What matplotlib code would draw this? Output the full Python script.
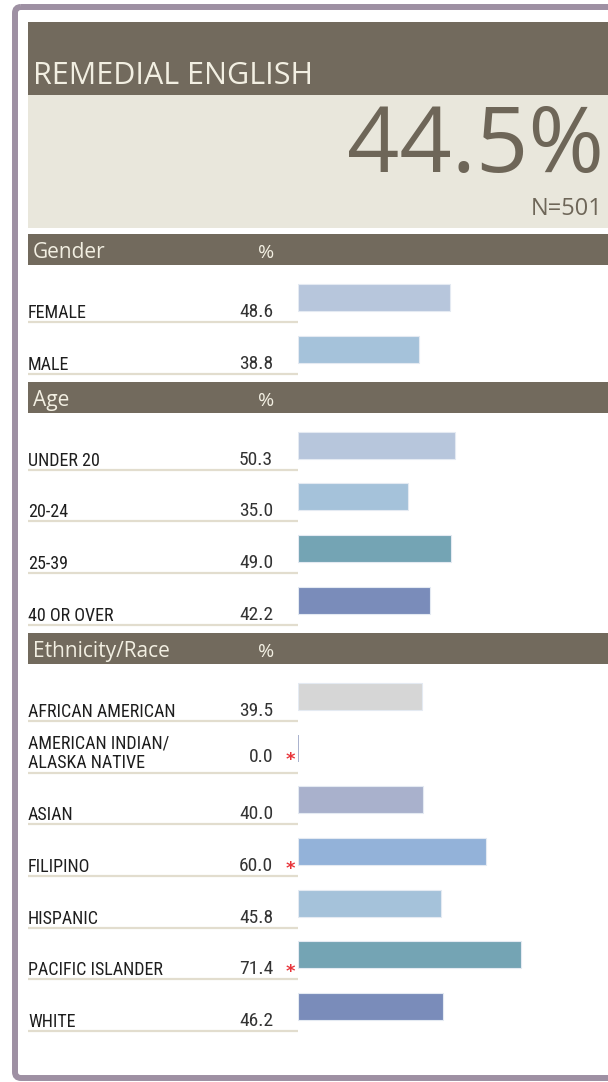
import matplotlib
matplotlib.use("Agg")
import matplotlib.pyplot as plt
from matplotlib import font_manager
from matplotlib.patches import Rectangle, FancyBboxPatch

# ---- data -------------------------------------------------------------
title = "REMEDIAL ENGLISH"
overall_pct = 44.5
overall_n = 501

gender_labels = ["FEMALE", "MALE"]
gender_values = [48.6, 38.8]
gender_flags = [False, False]
gender_colors = ["#b7c6dc", "#a5c2da"]

age_labels = ["UNDER 20", "20-24", "25-39", "40 OR OVER"]
age_values = [50.3, 35.0, 49.0, 42.2]
age_flags = [False, False, False, False]
age_colors = ["#b7c6dc", "#a5c2da", "#74a4b4", "#7a8cba"]

eth_labels = ["AFRICAN AMERICAN", "AMERICAN INDIAN/\nALASKA NATIVE", "ASIAN",
              "FILIPINO", "HISPANIC", "PACIFIC ISLANDER", "WHITE"]
eth_values = [39.5, 0.0, 40.0, 60.0, 45.8, 71.4, 46.2]
eth_flags = [False, True, False, True, False, True, False]
eth_colors = ["#d6d6d6", "#a9b1cd", "#a9b1cc", "#93b2d9", "#a5c2da", "#74a4b4", "#7a8cba"]

sections = [
    ("Gender", gender_labels, gender_values, gender_flags, gender_colors),
    ("Age", age_labels, age_values, age_flags, age_colors),
    ("Ethnicity/Race", eth_labels, eth_values, eth_flags, eth_colors),
]

# ---- style ------------------------------------------------------------
names = {f.name for f in font_manager.fontManager.ttflist}


def pick(*cands):
    return next((c for c in cands if c in names), "DejaVu Sans")


HEAD_FONT = pick("Open Sans", "Noto Sans", "DejaVu Sans")
ROW_FONT = pick("Liberation Sans Narrow", "Roboto Condensed", "Open Sans Condensed",
                "Noto Sans", "DejaVu Sans")

DARK = "#726a5d"
PANEL = "#e9e7dc"
CREAM = "#f2efe2"
BIG = "#6e6658"
RULE = "#e2ddce"
FRAME = "#9e90a3"

W, H = 608, 1082
LEFT = 28
BAR_X0 = 298
HEADER_H = 31
PITCH = 51.7
BAR_H = 27

fig = plt.figure(figsize=(W / 100, H / 100), dpi=100)
fig.patch.set_facecolor("white")

ax = fig.add_axes([0, 0, 1, 1])
ax.set_xlim(0, W)
ax.set_ylim(H, 0)
ax.axis("off")

# bar axes: 0..100 % spread over 313 px starting at the bar origin
bx = fig.add_axes([BAR_X0 / W, 0, 313 / W, 1])
bx.set_xlim(0, 100)
bx.set_ylim(H, 0)
bx.axis("off")
bx.patch.set_alpha(0)

# outer frame
ax.add_patch(FancyBboxPatch((15, 7), 610, 1071,
                            boxstyle="round,pad=0,rounding_size=6",
                            fill=False, ec=FRAME, lw=4.3, clip_on=False))

# title block
ax.add_patch(Rectangle((LEFT, 22), W - LEFT, 73, color=DARK, lw=0))
ax.add_patch(Rectangle((LEFT, 95), W - LEFT, 133, color=PANEL, lw=0))
ax.text(33, 84, title, family=HEAD_FONT, fontsize=22, color=CREAM, va="baseline")
ax.text(604, 172, f"{overall_pct:.1f}%", family=HEAD_FONT, fontsize=66,
        color=BIG, ha="right", va="baseline")
ax.text(603, 215, f"N={overall_n}", family=HEAD_FONT, fontsize=17,
        color=BIG, ha="right", va="baseline")

# sections
top = 234
for name, labels, values, flags, colors in sections:
    ax.add_patch(Rectangle((LEFT, top), W - LEFT, HEADER_H, color=DARK, lw=0))
    ax.text(33, top + 24, name, family=HEAD_FONT, fontsize=15, color=CREAM,
            va="baseline")
    ax.text(266, top + 24, "%", family=HEAD_FONT, fontsize=14, color=CREAM,
            ha="center", va="baseline")

    bar_top = top + HEADER_H + 19
    centers = [bar_top + i * PITCH + BAR_H / 2 for i in range(len(labels))]
    bx.barh(centers, values, height=BAR_H, left=0, color=colors,
            edgecolor=[c if v == 0 else "#e4eaf2" for c, v in zip(colors, values)],
            linewidth=[1.4 if v == 0 else 0.8 for v in values])

    for yc, lab, val, flag in zip(centers, labels, values, flags):
        rule_y = yc + BAR_H / 2 + 11
        ax.plot([LEFT, BAR_X0], [rule_y, rule_y], color=RULE, lw=1.6,
                solid_capstyle="butt")
        ax.text(LEFT, rule_y - 4, lab, family=ROW_FONT, fontsize=13,
                color="#1e1e1e", va="baseline", linespacing=1.15)
        vy = rule_y - 5 - (5 if "\n" in lab else 0)
        ax.text(273, vy, f"{val:.1f}", family=ROW_FONT, fontsize=14,
                color="#333333", ha="right", va="baseline")
        if flag:
            ax.text(290, vy + 3, "*", family="DejaVu Sans", fontsize=13,
                    color="#e8343a", ha="center", va="baseline",
                    fontweight="bold")

    top = centers[-1] + BAR_H / 2 + 11 + 8

fig.savefig("out.png", dpi=100, facecolor="white")
